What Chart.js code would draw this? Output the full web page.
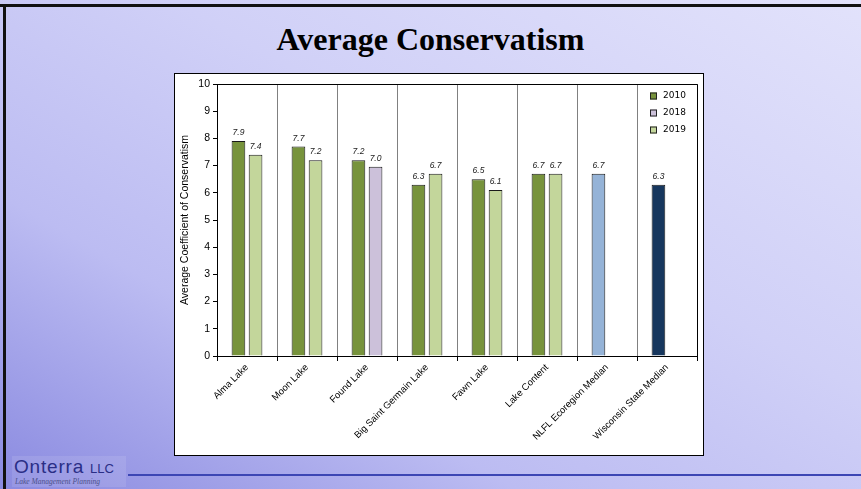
<!DOCTYPE html>
<html>
<head>
<meta charset="utf-8">
<script src="https://cdn.jsdelivr.net/npm/chart.js@4.4.1/dist/chart.umd.min.js"></script>
<style>
  html, body { margin: 0; padding: 0; }
  body {
    width: 861px; height: 489px; position: relative; overflow: hidden;
    background: linear-gradient(to top right, #8a8ae0 0%, #bcbcf2 30%, #d0d0f7 60%, #e2e2fb 100%);
    font-family: "Liberation Sans", Arial, sans-serif;
  }
  #topBorder { position: absolute; left: 0; top: 4px; width: 861px; height: 3px; background: #111; }
  #leftBorder { position: absolute; left: 3px; top: 4px; width: 3px; height: 485px; background: #111; }
  #title {
    position: absolute; left: 0; width: 861px; top: 21px; text-align: center;
    font-family: "Liberation Serif", serif; font-weight: bold; font-size: 32px; color: #000;
  }
  #box {
    position: absolute; left: 174px; top: 73px; width: 528px; height: 381px;
    background: #fff; border: 1px solid #000;
  }
  #box canvas { display: block; }
  #logo {
    position: absolute; left: 12px; top: 456px; width: 114px; height: 31px;
    background: rgba(255,255,255,0.1);
  }
  #logoName { position: absolute; left: 2px; top: 0px; color: #2a2e86; font-size: 19px; letter-spacing: 0.8px; white-space: nowrap; }
  #logoName span { font-size: 13px; letter-spacing: 0; }
  #logoSub { position: absolute; left: 3px; top: 21px; color: #4a4f8a; font-family: "Liberation Serif", serif; font-style: italic; font-size: 7.5px; white-space: nowrap; }
  #footLine { position: absolute; left: 128px; top: 474px; width: 733px; height: 2px; background: #3c46b4; }
</style>
</head>
<body>
<div id="topBorder"></div>
<div id="leftBorder"></div>
<div id="title">Average Conservatism</div>
<div id="box"><canvas id="chart" width="528" height="381"></canvas></div>
<div id="logo"><div id="logoName">Onterra <span>LLC</span></div><div id="logoSub">Lake Management Planning</div></div>
<div id="footLine"></div>
<script>
// Lakes and reference medians
const categories = ['Alma Lake', 'Moon Lake', 'Found Lake', 'Big Saint Germain Lake', 'Fawn Lake',
  'Lake Content', 'NLFL Ecoregion Median', 'Wisconsin State Median'];
const values2010 = [7.9, 7.7, 7.2, 6.3, 6.5, 6.7, null, null];
const values2018 = [null, null, 6.96, null, null, null, null, null];
const values2019 = [7.4, 7.2, null, 6.7, 6.1, 6.7, null, null];
const ecoregionMedian = [null, null, null, null, null, null, 6.7, null];
const stateMedian = [null, null, null, null, null, null, null, 6.3];
const yMin = 0, yMax = 10, yStep = 1;

const legendItems = [
  { label: '2010', color: '#77933c' },
  { label: '2018', color: '#ccc1da' },
  { label: '2019', color: '#c3d69b' }
];

function barSet(label, data, color, stack) {
  return { label, data, stack, backgroundColor: color, borderColor: '#1a1a1a', borderWidth: 1,
    categoryPercentage: 0.57, barPercentage: 0.8 };
}

// top/right frame, value labels and legend
const extras = {
  id: 'extras',
  afterDatasetsDraw(chart) {
    const c = chart.ctx;
    c.save();
    c.font = 'italic 8.5px "Liberation Sans", Arial, sans-serif';
    c.fillStyle = '#222';
    c.textAlign = 'center';
    c.textBaseline = 'alphabetic';
    chart.data.datasets.forEach((ds, i) => {
      chart.getDatasetMeta(i).data.forEach((bar, j) => {
        const v = ds.data[j];
        if (v === null) return;
        c.fillText(v.toFixed(1), bar.x, bar.y - 6);
      });
    });
    c.restore();
  },
  afterDraw(chart) {
    const c = chart.ctx, a = chart.chartArea;
    c.save();
    c.strokeStyle = '#000';
    c.lineWidth = 1;
    c.beginPath();
    c.moveTo(a.left, a.top + 0.5);
    c.lineTo(a.right + 0.5, a.top + 0.5);
    c.lineTo(a.right + 0.5, a.bottom);
    c.stroke();
    // legend
    c.font = '9px "DejaVu Sans", Verdana, sans-serif';
    c.textBaseline = 'middle';
    legendItems.forEach((it, k) => {
      const y = a.top + 12 + k * 17;
      const x = a.right - 47;
      c.fillStyle = it.color;
      c.fillRect(x, y - 3.5, 7, 7);
      c.strokeStyle = '#222';
      c.strokeRect(x + 0.5, y - 3.5 + 0.5, 6, 6);
      c.fillStyle = '#000';
      c.fillText(it.label, x + 13, y);
    });
    c.restore();
  }
};

new Chart(document.getElementById('chart'), {
  type: 'bar',
  data: {
    labels: categories,
    datasets: [
      barSet('2010', values2010, '#77933c', 'a'),
      barSet('2018', values2018, '#ccc1da', 'b'),
      barSet('2019', values2019, '#c3d69b', 'b'),
      barSet('NLFL Ecoregion Median', ecoregionMedian, '#95b3d7', 'a'),
      barSet('Wisconsin State Median', stateMedian, '#17375e', 'a')
    ]
  },
  options: {
    responsive: false,
    devicePixelRatio: 1,
    animation: false,
    layout: { padding: { top: 10, right: 6, left: 0, bottom: 0 } },
    plugins: { legend: { display: false }, tooltip: { enabled: false } },
    scales: {
      x: {
        grid: { color: '#808080', offset: true, tickColor: '#000', tickLength: 5 },
        border: { color: '#000' },
        ticks: {
          color: '#000', font: { family: '"Liberation Sans", Arial, sans-serif', size: 9.5 },
          minRotation: 45, maxRotation: 45, autoSkip: false, padding: 1
        },
        afterFit(s) { s.height = 99; }
      },
      y: {
        min: yMin, max: yMax,
        ticks: { stepSize: yStep, color: '#000', padding: 3,
          font: { family: '"Liberation Sans", Arial, sans-serif', size: 10.5 } },
        grid: { drawOnChartArea: false, tickColor: '#000', tickLength: 4 },
        border: { color: '#000' },
        title: { display: true, text: 'Average Coefficient of Conservatism', color: '#000',
          padding: { top: 4, bottom: 0 },
          font: { family: '"Liberation Sans", Arial, sans-serif', size: 10.5 } },
        afterFit(s) { s.width = 42; }
      }
    }
  },
  plugins: [extras]
});
</script>
</body>
</html>
